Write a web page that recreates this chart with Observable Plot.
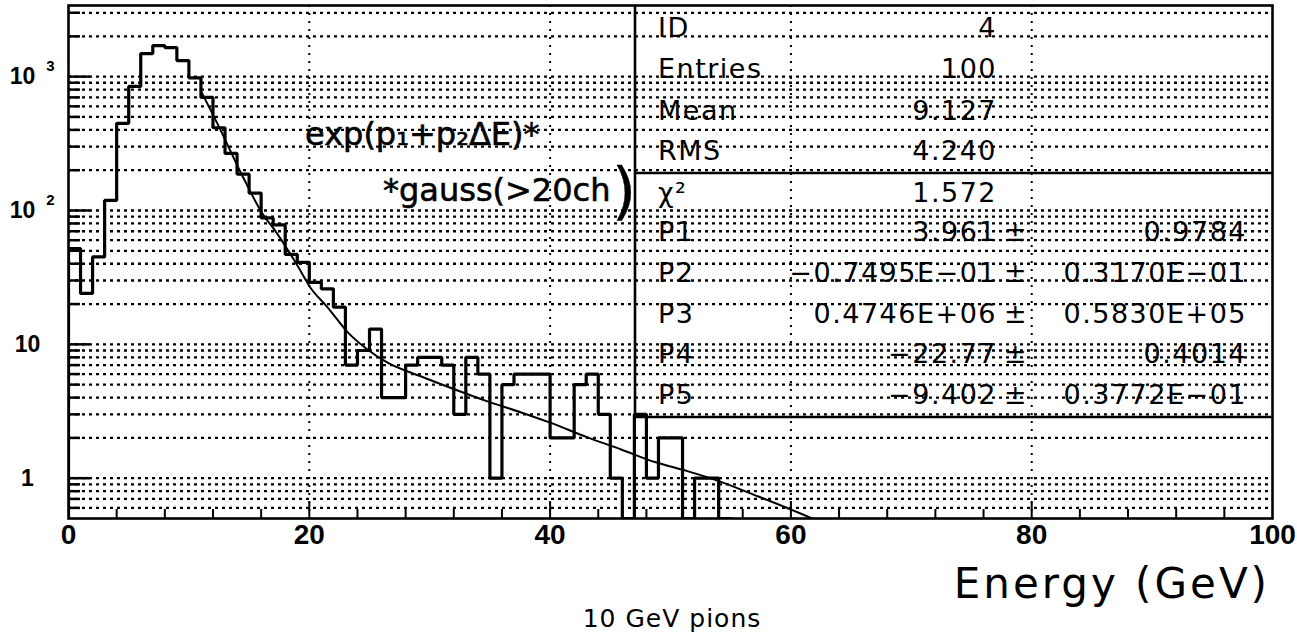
<!DOCTYPE html>
<html>
<head>
<meta charset="utf-8">
<script src="https://cdn.jsdelivr.net/npm/d3@7"></script>
<script src="https://cdn.jsdelivr.net/npm/@observablehq/plot@0.6"></script>
<style>
  html, body { margin: 0; padding: 0; background: #fff; }
  #chart svg { display: block; }
</style>
</head>
<body>
<div id="chart"></div>
<script>
// Energy deposit of 10 GeV pions, 1 GeV bins starting at 0 GeV
const binCounts = [
  52, 24, 45, 119, 448, 845, 1486, 1705, 1648, 1318,
  980, 699, 415, 267, 187, 135, 88, 78, 47, 41,
  29, 26, 19, 7, 9, 13, 4, 4, 7, 8,
  8, 7, 3, 8, 6, 1, 5, 6, 6, 6,
  2, 2, 5, 6, 3, 1, 0, 3, 1, 2,
  2, 0, 1, 1, 0
];

// fitted function exp(p1 + p2*E) plus gaussian, sampled along the drawn curve
const fitEnergy = [11.0, 12.4, 14.4, 16.2, 17.1, 19.0, 20.1, 21.5, 23.2, 24.8,
  26.5, 29.3, 32.1, 34.8, 37.6, 40.0, 43.1, 45.9, 48.7, 51.4, 53.6, 57.3, 60.9, 62.0];
const fitValue = [780, 440, 185, 92, 72, 39, 26.5, 19, 12.3, 9.2,
  7.3, 5.75, 4.6, 3.75, 3.1, 2.6, 2.02, 1.64, 1.32, 1.13, 0.98, 0.73, 0.54, 0.49];

const xTickLabels = [0, 20, 40, 60, 80, 100];
const yPlainValues = [1, 10];
const yPlainTexts = ["1", "10"];
const yPowerValues = [100, 1000];
const yPowerExponents = ["2", "3"];

// statistics and fit parameters
const statsLabels = ["ID", "Entries", "Mean", "RMS", "χ²", "P1", "P2", "P3", "P4", "P5"];
const statsValues = ["4", "100", "9.127", "4.240", "1.572", "3.961", "−0.7495E−01", "0.4746E+06", "−22.77", "−9.402"];
const statsErrors = [null, null, null, null, null, "0.9784", "0.3170E−01", "0.5830E+05", "0.4014", "0.3772E−01"];

const annotationLines = ["exp(p₁+p₂ΔE)*", "*gauss(>20ch"];
const xTitle = "Energy (GeV)";
const caption = "10 GeV pions";

// ---- layout
const W = 1297, H = 637;
const mL = 68, mR = 25, mT = 5, mB = 119;
const frameW = W - mL - mR, frameH = H - mT - mB;
const yDomain = [0.5, 3400];
const yFloor = yDomain[0];

// axis decorations
const yGrid = [];
for (const dec of [0.1, 1, 10, 100, 1000]) {
  for (let m = 1; m <= 9; m++) {
    const v = +(m * dec).toPrecision(3);
    if (v > yDomain[0] && v < yDomain[1]) yGrid.push(v);
  }
}
const yMajor = yGrid.filter(v => Math.abs(Math.log10(v) - Math.round(Math.log10(v))) < 1e-9);
const yMinor = yGrid.filter(v => !yMajor.includes(v));
const xGrid = [20, 40, 60, 80];
const xMinor = d3.range(4, 100, 4).filter(v => v % 20 !== 0);

// histogram outline (empty bins fall to the bottom of the frame)
const histPoints = [{x: 0, y: yFloor}];
binCounts.forEach((c, i) => histPoints.push({x: i, y: c > 0 ? c : yFloor}));
histPoints.push({x: binCounts.length, y: yFloor});

const fitPoints = fitEnergy.map((e, i) => ({x: e, y: fitValue[i]}));

const digitFont = "Liberation Sans, Arial, Helvetica, sans-serif";
const boxFont = "DejaVu Sans, Verdana, sans-serif";
const labelStyle = {fontWeight: "bold", fontFamily: digitFont, fill: "#000", textAnchor: "middle"};

const plot = Plot.plot({
  width: W,
  height: H,
  marginLeft: mL,
  marginRight: mR,
  marginTop: mT,
  marginBottom: mB,
  style: {background: "#fff", color: "#000"},
  x: {domain: [0, 100], axis: null},
  y: {type: "log", domain: yDomain, axis: null},
  marks: [
    Plot.ruleY(yGrid, {y: d => d, stroke: "#000", strokeWidth: 2.3, strokeDasharray: "3,4"}),
    Plot.ruleX(xGrid, {x: d => d, stroke: "#000", strokeWidth: 2, strokeDasharray: "2,6"}),
    Plot.tickX(xMinor, {x: d => d, stroke: "#000", strokeWidth: 2, insetTop: frameH - 9}),
    Plot.tickX(xGrid, {x: d => d, stroke: "#000", strokeWidth: 2, insetTop: frameH - 16}),
    Plot.tickY(yMinor, {y: d => d, stroke: "#000", strokeWidth: 2.5, insetRight: frameW - 12}),
    Plot.tickY(yMajor, {y: d => d, stroke: "#000", strokeWidth: 2.5, insetRight: frameW - 22}),
    Plot.line(fitPoints, {x: "x", y: "y", curve: "monotone-x", stroke: "#000", strokeWidth: 2, clip: true}),
    Plot.line(histPoints, {x: "x", y: "y", curve: "step-after", stroke: "#000", strokeWidth: 3.2, strokeLinejoin: "miter", clip: true}),
    Plot.frame({stroke: "#000", strokeWidth: 2.6}),
    Plot.text(xTickLabels, {
      x: d => d, text: d => String(d), frameAnchor: "bottom", dy: 25,
      fontSize: 28, ...labelStyle
    }),
    Plot.text(yPlainValues, {
      y: d => d, text: (d, i) => yPlainTexts[i], frameAnchor: "left", dx: -41,
      fontSize: 23, ...labelStyle
    }),
    Plot.text(yPowerValues, {
      y: d => d, text: () => "10", frameAnchor: "left", dx: -46,
      fontSize: 23, ...labelStyle
    }),
    Plot.text(yPowerValues, {
      y: d => d, text: (d, i) => yPowerExponents[i], frameAnchor: "left", dx: -18, dy: -10,
      fontSize: 15, ...labelStyle
    })
  ]
});

document.getElementById("chart").appendChild(plot);

// ---- statistics box, handwritten note and titles
const svg = d3.select(plot);
const frameRight = mL + frameW;
const boxLeft = 635, boxDivider = 173, boxBottom = 417;

const box = svg.append("g").attr("stroke", "#000").attr("stroke-width", 2.6).attr("fill", "none");
box.append("line").attr("x1", boxLeft).attr("x2", boxLeft).attr("y1", mT).attr("y2", boxBottom);
box.append("line").attr("x1", boxLeft).attr("x2", frameRight).attr("y1", boxDivider).attr("y2", boxDivider);
box.append("line").attr("x1", boxLeft).attr("x2", frameRight).attr("y1", boxBottom).attr("y2", boxBottom);

const rowBaselines = [37, 78, 120, 160, 202, 241, 282, 323, 363, 404];
const stats = svg.append("g")
  .attr("font-family", boxFont)
  .attr("font-size", 27)
  .attr("letter-spacing", 1.5)
  .attr("text-anchor", "start")
  .attr("fill", "#000");
statsLabels.forEach((label, i) => {
  const yb = rowBaselines[i];
  stats.append("text").attr("x", 658).attr("y", yb).text(label);
  stats.append("text").attr("x", 997).attr("y", yb).attr("text-anchor", "end").text(statsValues[i]);
  if (statsErrors[i] !== null) {
    stats.append("text").attr("x", 1016).attr("y", yb).attr("text-anchor", "middle").text("±");
    stats.append("text").attr("x", 1247).attr("y", yb).attr("text-anchor", "end").text(statsErrors[i]);
  }
});

const note = svg.append("g")
  .attr("font-family", boxFont)
  .attr("font-size", 32)
  .attr("text-anchor", "start")
  .attr("fill", "#000")
  .attr("stroke", "#000")
  .attr("stroke-width", 0.6);
note.append("text").attr("x", 305).attr("y", 145).text(annotationLines[0]);
note.append("text").attr("x", 383).attr("y", 201).text(annotationLines[1]);
note.append("text").attr("x", 612).attr("y", 212).attr("font-size", 62).attr("stroke-width", 0.4).text(")");

svg.append("text")
  .attr("x", frameRight - 2).attr("y", 598)
  .attr("text-anchor", "end")
  .attr("font-family", boxFont)
  .attr("font-size", 42)
  .attr("letter-spacing", 3)
  .attr("fill", "#000")
  .text(xTitle);

svg.append("text")
  .attr("x", 672).attr("y", 627)
  .attr("text-anchor", "middle")
  .attr("font-family", boxFont)
  .attr("font-size", 25)
  .attr("letter-spacing", 1)
  .attr("fill", "#000")
  .text(caption);
</script>
</body>
</html>
